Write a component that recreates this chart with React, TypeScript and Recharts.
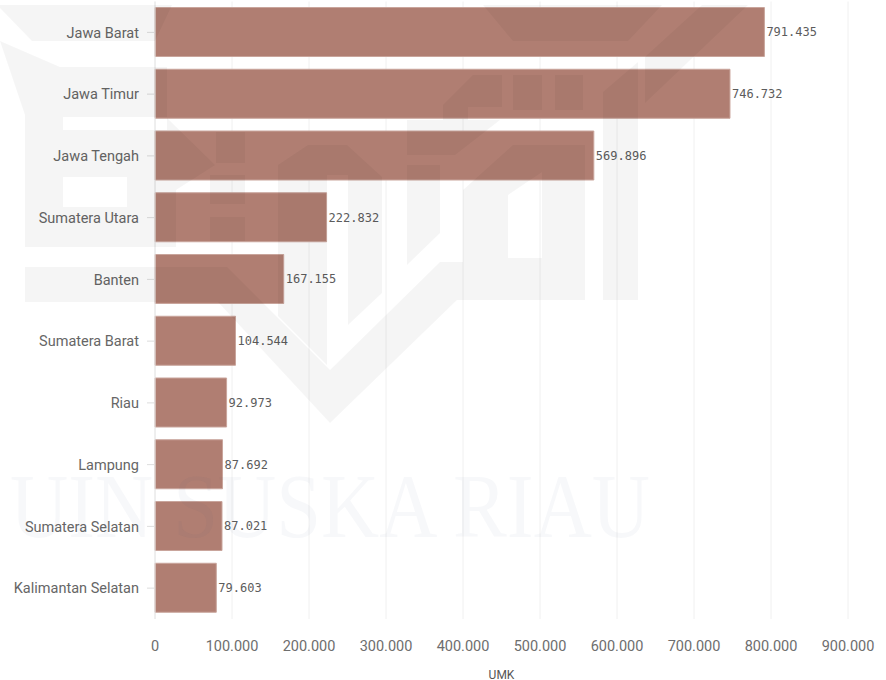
import { BarChart, Bar, XAxis, YAxis, CartesianGrid, LabelList } from 'recharts';

const provinces = [
  'Jawa Barat',
  'Jawa Timur',
  'Jawa Tengah',
  'Sumatera Utara',
  'Banten',
  'Sumatera Barat',
  'Riau',
  'Lampung',
  'Sumatera Selatan',
  'Kalimantan Selatan',
];
const umkCounts = [791435, 746732, 569896, 222832, 167155, 104544, 92973, 87692, 87021, 79603];
const xTicks = [0, 100000, 200000, 300000, 400000, 500000, 600000, 700000, 800000, 900000];

const data = provinces.map((name, i) => ({ name, umk: umkCounts[i] }));

// thousands separated with dots, Indonesian style
const formatNumber = (v: number) => String(v).replace(/\B(?=(\d{3})+$)/g, '.');

// faint logo stamped over the page
const stampPaths = [
  // top band and left column
  'M0 5 L172 5 L155 41 L32 41 L0 8 Z',
  'M0 41 L60 67 L167 67 L167 118 L215 165 L176 190 L176 247 L25 247 L25 115 Z M63 117 L167 117 L167 130 L63 130 Z M63 177 L127 177 L127 207 L63 207 Z',
  // blocks in the middle
  'M216 132 L245 132 L245 163 L216 163 Z',
  'M210 175 L245 175 L245 204 L210 204 Z',
  'M210 217 L245 217 L245 241 L210 241 Z',
  // big V with the right hand frame
  'M440 262 L463 262 L463 190 L513 145 L585 145 L585 300 L457 300 L330 423 L218 302 L25 302 L25 267 L227 267 L330 370 Z M508 258 L542 258 L542 172 L508 195 Z',
  // arch
  'M278 165 L308 145 L347 145 L382 177 L382 293 L348 325 L348 175 L327 175 L327 365 L278 316 Z',
  // pieces near the top right
  'M407 165 L440 165 L440 233 L407 265 Z',
  'M443 105 L473 75 L502 75 L502 107 L468 107 L468 120 L500 120 L455 155 L407 155 L407 120 L443 120 Z',
  'M513 75 L542 75 L542 110 L513 110 Z',
  'M555 75 L583 75 L583 110 L555 110 Z',
  'M483 5 L662 5 L628 41 L513 41 Z',
  'M603 300 L638 300 L638 62 L603 92 Z',
  'M645 103 L645 57 L702 5 L748 5 Z',
];

function Stamp() {
  return (
    <svg
      width={886}
      height={680}
      style={{ position: 'absolute', left: 0, top: 0, pointerEvents: 'none' }}
    >
      {stampPaths.map((d, i) => (
        <path key={i} d={d} fill="#000" fillOpacity={0.04} fillRule="evenodd" />
      ))}
      <text
        x={10}
        y={537}
        textLength={640}
        lengthAdjust="spacingAndGlyphs"
        fontFamily="'Liberation Serif', serif"
        fontSize={92}
        fill="#304080"
        fillOpacity={0.04}
      >
        UIN SUSKA RIAU
      </text>
    </svg>
  );
}

export default function App() {
  return (
    <div style={{ position: 'absolute', left: 0, top: 0, width: 886, height: 680, overflow: 'hidden' }}>
      <BarChart
        width={886}
        height={680}
        data={data}
        layout="vertical"
        margin={{ top: 1.5, right: 38, bottom: 0, left: 0 }}
      >
        <CartesianGrid horizontal={false} stroke="#f0f0f0" />
        <XAxis
          type="number"
          domain={[0, 900000]}
          ticks={xTicks}
          tickFormatter={formatNumber}
          height={61}
          axisLine={false}
          tickLine={false}
          tick={{ fill: '#6e6e6e', fontSize: 14.5, fontFamily: 'Roboto' }}
          tickMargin={16}
          interval={0}
          label={{
            value: 'UMK',
            position: 'insideBottom',
            offset: 1,
            style: { fill: '#555', fontSize: 12, fontFamily: 'Roboto' },
          }}
        />
        <YAxis
          type="category"
          dataKey="name"
          width={155}
          interval={0}
          axisLine={{ stroke: '#e6e6e6' }}
          tickLine={{ stroke: '#ddd' }}
          tickSize={8}
          tickMargin={8}
          tick={{ fill: '#666', fontSize: 14.5, fontFamily: 'Roboto' }}
        />
        <Bar
          dataKey="umk"
          fill="#B07E72"
          stroke="#c9a59c"
          strokeWidth={1}
          barSize={49}
          isAnimationActive={false}
        >
          <LabelList
            dataKey="umk"
            position="right"
            offset={2}
            formatter={formatNumber}
            style={{ fill: '#5c5c5c', fontSize: 12, fontFamily: "'DejaVu Sans Mono'" }}
          />
        </Bar>
      </BarChart>
      <Stamp />
    </div>
  );
}
